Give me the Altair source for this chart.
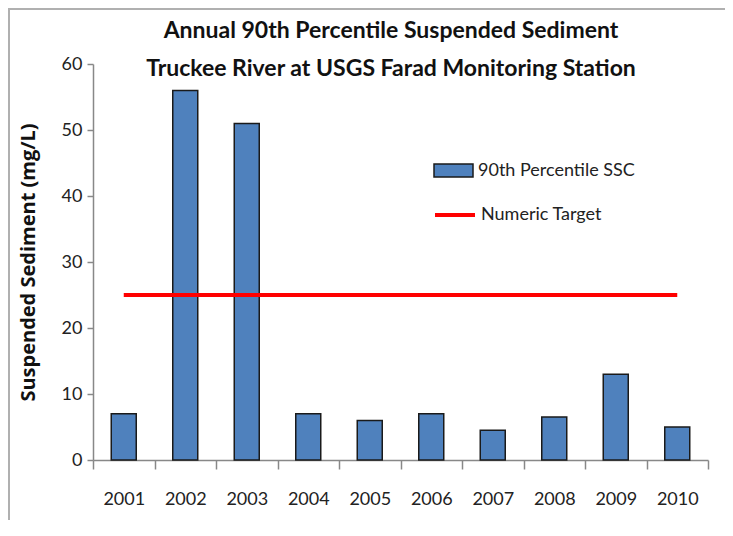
import altair as alt
import pandas as pd

years = ["2001", "2002", "2003", "2004", "2005", "2006", "2007", "2008", "2009", "2010"]
ssc = [7, 56, 51, 7, 6, 7, 4.5, 6.5, 13, 5]
target = [25, 25, 25, 25, 25, 25, 25, 25, 25, 25]
y_ticks = [0, 10, 20, 30, 40, 50, 60]
title_lines = [
    "Annual 90th Percentile Suspended Sediment",
    "Truckee River at USGS Farad Monitoring Station",
]
bar_name = "90th Percentile SSC"
line_name = "Numeric Target"

df = pd.DataFrame({
    "year": years,
    "ssc": ssc,
    "target": target,
    "bar_series": [bar_name] * len(years),
    "line_series": [line_name] * len(years),
})

FONT = "Lato"
TXT = "#222222"
W, H = 615, 396
PAD = {"left": 85, "top": 56, "right": 17, "bottom": 60}

x_enc = alt.X(
    "year:N",
    title=None,
    sort=years,
    scale=alt.Scale(paddingInner=0, paddingOuter=0),
    axis=alt.Axis(
        labelAngle=0, tickBand="extent", tickSize=9, labelPadding=21,
        labelFontSize=18, labelColor=TXT, domainColor="#888888",
        tickColor="#888888", domainWidth=1.5, tickWidth=1.5,
    ),
)

y_enc = alt.Y(
    "ssc:Q",
    title="Suspended Sediment (mg/L)",
    scale=alt.Scale(domain=[0, 60], nice=False),
    axis=alt.Axis(
        values=y_ticks, grid=False, tickSize=6, labelPadding=5,
        labelFontSize=18, labelColor=TXT, domainColor="#888888",
        tickColor="#888888", domainWidth=1.5, tickWidth=1.5,
        titleFontSize=20, titleFontWeight="bold", titleColor="#111111",
        titleFont="Open Sans", titlePadding=23,
    ),
)

bars = alt.Chart(df).mark_bar(size=25, stroke="#1a1a1a", strokeWidth=1.5).encode(
    x=x_enc,
    y=y_enc,
    fill=alt.Fill(
        "bar_series:N",
        scale=alt.Scale(domain=[bar_name], range=["#4F81BD"]),
        legend=alt.Legend(
            title=None, orient="none", legendX=340, legendY=86,
            symbolType="M-1,-0.33L1,-0.33L1,0.33L-1,0.33Z", symbolSize=1521,
            symbolStrokeColor="#1a1a1a", symbolStrokeWidth=1.5,
            symbolOpacity=1, symbolFillColor="#4F81BD",
            labelFontSize=18, labelColor=TXT, labelOffset=4,
        ),
    ),
)

line = alt.Chart(df).mark_line(strokeWidth=4).encode(
    x=x_enc,
    y=alt.Y("target:Q"),
    stroke=alt.Stroke(
        "line_series:N",
        scale=alt.Scale(domain=[line_name], range=["#FF0000"]),
        legend=alt.Legend(
            title=None, orient="none", legendX=340, legendY=129,
            symbolType="stroke", symbolSize=1600, symbolStrokeWidth=4,
            labelFontSize=18, labelColor=TXT, labelOffset=4,
        ),
    ),
)

title_df = pd.DataFrame({"line": title_lines, "row": [0, 1]})
title1 = alt.Chart(title_df).transform_filter(alt.datum.row == 0).mark_text(
    fontSize=23, fontWeight="bold", font=FONT, color="#111111", align="center", baseline="alphabetic"
).encode(text="line:N", x=alt.value(298), y=alt.value(-26))
title2 = alt.Chart(title_df).transform_filter(alt.datum.row == 1).mark_text(
    fontSize=23, fontWeight="bold", font=FONT, color="#111111", align="center", baseline="alphabetic"
).encode(text="line:N", x=alt.value(298), y=alt.value(12))

# outer chart frame: only its left and top edges fall inside the picture
frame = alt.Chart(title_df).transform_filter(alt.datum.row == 0).mark_rect(
    fillOpacity=0, stroke="#b0b0b0", strokeWidth=2
).encode(
    x=alt.value(-PAD["left"] + 1), x2=alt.value(W + PAD["right"] + 40),
    y=alt.value(-PAD["top"] + 1), y2=alt.value(H + PAD["bottom"] + 40),
)

chart = alt.layer(frame, bars, line, title1, title2).resolve_scale(
    fill="independent", stroke="independent"
).properties(
    width=W,
    height=H,
    autosize="none",
    padding=PAD,
).configure(font=FONT).configure_view(stroke=None)

chart.save("out.html", embed_options={"renderer": "svg", "actions": False})
